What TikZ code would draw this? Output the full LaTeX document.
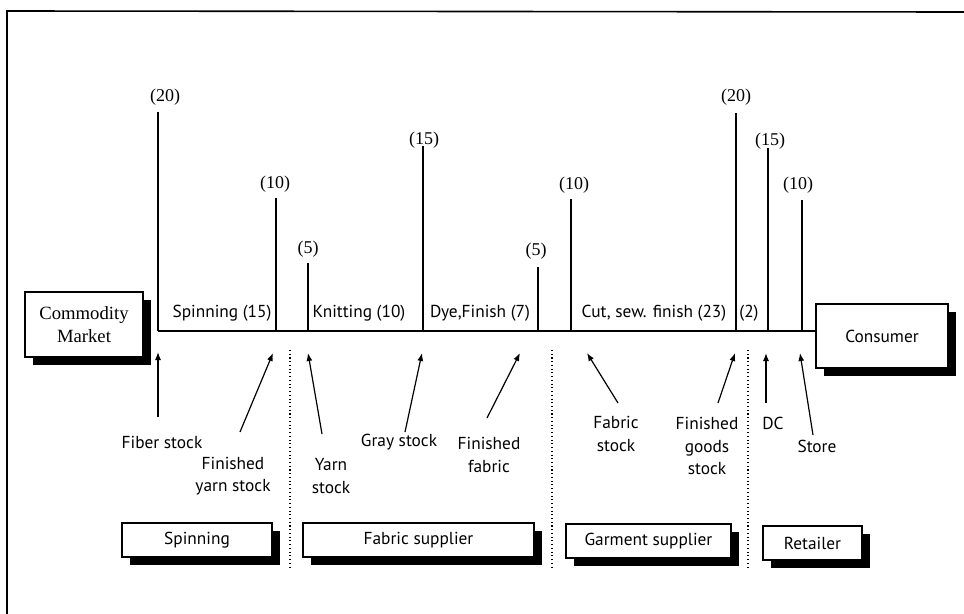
\documentclass[tikz,border=0pt]{standalone}
\usepackage{fontspec}
\setmainfont{Liberation Serif}
\newfontfamily\lab{PT Sans}
\usetikzlibrary{arrows.meta,shadows}
\begin{document}
\begin{tikzpicture}[x=0.75pt,y=-0.75pt,
  lbl/.style={font=\lab\fontsize{13}{17}\selectfont, align=center, inner sep=0},
  num/.style={font=\fontsize{13.5}{14}\selectfont, inner sep=0},
  stem/.style={line width=1.4pt},
  arr/.style={line width=0.9pt,-{Latex[length=6pt,width=4.5pt]}},
  sep/.style={dotted, line width=0.8pt},
  sbox/.style={draw, line width=1pt, fill=white, inner sep=0,
    drop shadow={shadow xshift=6pt, shadow yshift=-6pt, fill=black, opacity=1}},
  bfont/.style={font=\lab\fontsize{13}{14}\selectfont}]
\useasboundingbox (0,0) rectangle (964,614);
% frame
\draw[line width=1.2pt] (7,614) -- (7,11) -- (964,12);

% boxes
\node[sbox, minimum width=88.5pt, minimum height=48.75pt, align=center,
  font=\fontsize{14}{17}\selectfont] (cm) at (84,324.5) {Commodity\\Market};
\node[sbox, bfont, minimum width=99pt, minimum height=48pt] (cons) at (882,336) {Consumer};
\node[sbox, bfont, minimum width=112.5pt, minimum height=25.5pt] (bspin) at (197,540) {Spinning};
\node[sbox, bfont, minimum width=173.25pt, minimum height=25.5pt] (bfab) at (418.5,540) {Fabric supplier};
\node[sbox, bfont, minimum width=123.75pt, minimum height=25.5pt] (bgar) at (648.5,541) {Garment supplier};
\node[sbox, bfont, minimum width=74.25pt, minimum height=25.5pt] (bret) at (812.5,543) {Retailer};

% main line
\coordinate (L0) at (158,331);
\coordinate (L1) at (815,331);
\draw[line width=1.8pt] (L0) -- (L1);

% stems with numbers
\foreach \i/\x/\t/\lx/\ly/\txt in {1/158/112/165/97/(20), 2/276/198/275/184/(10), 3/308/263/308/249/(5),
  4/423/146/424/140/(15), 5/538/267/536/251/(5), 6/571/199/574/185/(10),
  7/736/113/736/97/(20), 8/768/148/770/141/(15), 9/802/200/798/185/(10)}{
  \node[num] (n\i) at (\lx,\ly) {\txt};
  \coordinate (t\i) at (\x,\t);
  \coordinate (b\i) at (\x,331);
  \draw[stem] (b\i) -- (t\i);
}

% phase labels
\node[lbl] (p1) at (222,313) {Spinning (15)};
\node[lbl] (p2) at (359,313) {Knitting (10)};
\node[lbl] (p3) at (480,313) {Dye,Finish (7)};
\node[lbl] (p4) at (654,313) {Cut, sew. finish (23)};
\node[lbl] (p5) at (749,313) {(2)};

% separators
\coordinate (s1a) at (290,350); \coordinate (s1b) at (290,567);
\coordinate (s2a) at (552,350); \coordinate (s2b) at (552,567);
\coordinate (s3a) at (748,350); \coordinate (s3b) at (748,567);
\draw[sep] (s1a) -- (s1b);
\draw[sep] (s2a) -- (s2b);
\draw[sep] (s3a) -- (s3b);

% stock labels
\node[lbl] (fiber) at (162,442) {Fiber stock};
\node[lbl] (fyarn) at (233,476) {Finished\\yarn stock};
\node[lbl] (yarn) at (331,476) {Yarn\\stock};
\node[lbl] (gray) at (399,442) {Gray stock};
\node[lbl] (ffab) at (489,455) {Finished\\fabric};
\node[lbl] (fstock) at (616,434) {Fabric\\stock};
\node[lbl] (fgoods) at (707,446) {Finished\\goods\\stock};
\node[lbl] (dc) at (773,423) {DC};
\node[lbl] (store) at (817,446) {Store};

% arrows
\coordinate (a1s) at (158,417); \coordinate (a1e) at (158,352);
\coordinate (a2s) at (240,432); \coordinate (a2e) at (273,353);
\coordinate (a3s) at (322,434); \coordinate (a3e) at (308,353);
\coordinate (a4s) at (405,432); \coordinate (a4e) at (422,353);
\coordinate (a5s) at (487,418); \coordinate (a5e) at (520,353);
\coordinate (a6s) at (618,403); \coordinate (a6e) at (587,353);
\coordinate (a7s) at (718,403); \coordinate (a7e) at (735,353);
\coordinate (a8s) at (766,403); \coordinate (a8e) at (766,353);
\coordinate (a9s) at (813,435); \coordinate (a9e) at (800,353);
\foreach \i in {1,...,9}{ \draw[arr] (a\i s) -- (a\i e); }
\end{tikzpicture}
\end{document}
